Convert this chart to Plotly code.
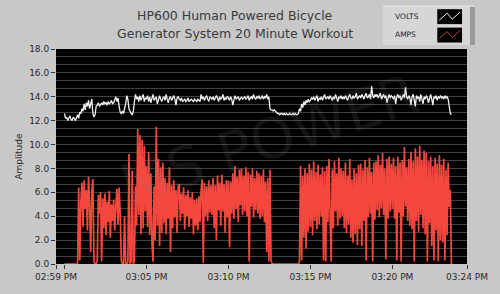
import pandas as pd
import plotly.graph_objects as go

# ---------------- data (one row = one minute, 4-second samples, from 03:00:00 PM) -------------
amps_rows = [
    [0, 0, 0, 0, 0, 0, 0, 0, 0, 0, 0, 0, 0, 6.4, 0.3],
    [5.2, 6.8, 3.1, 7.0, 4.6, 6.2, 2.8, 7.3, 5.0, 1.0, 6.0, 7.1, 0.2, 0, 0],
    [0.3, 5.8, 4.2, 6.0, 0.2, 5.5, 3.0, 5.9, 2.4, 5.2, 3.5, 6.1, 2.2, 5.0, 3.6],
    [5.4, 2.8, 4.9, 6.3, 3.3, 6.4, 4.1, 0.3, 0, 0, 4.0, 0, 0, 0.2, 9.2],
    [0, 0.2, 7.8, 0, 0.3, 6.5, 3.2, 11.3, 4.1, 10.8, 2.5, 10.4, 3.0, 9.9, 4.4],
    [8.2, 3.1, 9.4, 2.4, 7.6, 1.8, 0.2, 6.5, 2.0, 11.5, 3.2, 8.8, 1.5, 8.1, 2.6],
    [8.5, 3.4, 7.2, 2.5, 6.8, 3.8, 8.1, 1.0, 6.6, 3.0, 7.0, 3.9, 6.2, 2.6, 6.4],
    [6.7, 3.6, 5.9, 4.2, 6.4, 2.9, 5.8, 4.0, 6.2, 3.1, 5.6, 3.8, 6.0, 2.5, 5.4],
    [3.2, 5.5, 2.8, 5.7, 3.5, 6.2, 7.1, 0.1, 6.8, 4.0, 6.5, 3.6, 7.0, 4.3, 6.6],
    [4.1, 7.2, 3.0, 6.6, 2.0, 7.4, 4.5, 6.8, 3.2, 7.5, 4.4, 6.7, 2.6, 7.0, 3.9],
    [7.0, 1.4, 6.9, 4.2, 7.6, 3.8, 8.2, 4.6, 7.3, 3.5, 7.9, 4.9, 8.0, 4.1, 7.4],
    [4.4, 8.1, 4.0, 7.7, 0.2, 7.5, 4.8, 8.0, 3.9, 7.2, 4.5, 7.8, 4.2, 7.6, 3.8],
    [7.4, 4.0, 7.9, 3.5, 6.9, 1.0, 7.2, 0.2, 7.9, 0.3, 0, 0, 0, 0, 0],
    [0, 0, 0, 0, 0, 0, 0, 0, 0, 0, 0, 0, 0, 0, 0],
    [0, 0, 0, 0, 0, 0.2, 8.2, 0.3, 7.4, 2.2, 8.0, 1.3, 7.6, 2.7, 8.4],
    [3.1, 7.9, 2.4, 8.6, 3.6, 7.7, 2.9, 8.3, 3.3, 7.5, 4.0, 8.1, 0.3, 7.8, 0.2],
    [8.2, 3.5, 8.8, 4.1, 0.2, 7.9, 3.0, 8.6, 4.4, 7.6, 3.2, 8.9, 3.8, 8.0, 4.0],
    [7.8, 3.0, 8.5, 2.6, 7.4, 3.3, 8.8, 2.2, 7.1, 1.8, 8.0, 2.5, 7.6, 1.6, 8.3],
    [2.9, 8.4, 1.5, 7.9, 3.6, 8.7, 0.3, 8.1, 3.9, 8.9, 4.2, 7.7, 0.2, 8.5, 3.7],
    [8.6, 4.5, 9.1, 3.9, 8.3, 4.7, 9.3, 4.1, 8.0, 0.4, 8.8, 3.8, 9.0, 4.4, 8.4],
    [4.6, 8.9, 3.8, 8.2, 0.3, 9.0, 4.3, 8.5, 0.2, 8.7, 4.0, 9.8, 4.8, 8.1, 3.6],
    [8.8, 3.2, 9.4, 2.9, 8.6, 0.2, 9.7, 3.6, 9.0, 2.7, 9.9, 4.1, 8.7, 3.0, 9.5],
    [2.5, 9.3, 0.2, 8.6, 3.4, 9.0, 1.5, 8.2, 0.3, 8.9, 2.8, 8.4, 0.2, 9.1, 2.0],
    [8.3, 1.8, 8.8, 0.3, 7.9, 2.4, 8.5, 4.8, 6.2, 0, 0],
]

volts_rows = [
    [12.6, 12.2, 12.3, 12.0, 12.2, 12.4, 12.1, 12.0, 12.3, 12.2, 12.0, 12.3, 12.5, 12.2, 12.7],
    [12.6, 13.0, 12.8, 13.4, 12.9, 13.5, 13.2, 13.7, 13.0, 13.6, 13.8, 12.6, 12.3, 12.5, 13.2],
    [13.3, 13.5, 13.2, 13.4, 13.5, 13.3, 13.6, 13.4, 13.5, 13.3, 13.6, 13.4, 13.5, 13.7, 13.4],
    [13.5, 13.7, 14.0, 13.6, 13.9, 13.2, 12.7, 12.6, 12.8, 12.6, 13.0, 13.4, 14.1, 13.8, 13.0],
    [12.7, 12.6, 12.5, 12.8, 13.6, 14.2, 13.8, 14.0, 13.6, 14.1, 13.7, 13.9, 14.2, 13.6, 13.9],
    [13.8, 14.1, 13.6, 14.0, 13.5, 13.9, 14.2, 13.7, 13.9, 14.0, 13.4, 13.9, 14.1, 13.8, 13.6],
    [13.9, 14.0, 13.7, 14.2, 13.8, 13.5, 13.9, 14.0, 13.7, 13.9, 14.1, 13.8, 13.3, 13.9, 14.0],
    [13.8, 13.7, 13.9, 13.6, 13.7, 13.8, 13.6, 13.7, 13.9, 13.6, 13.7, 13.8, 13.7, 13.6, 13.8],
    [13.7, 13.6, 13.8, 13.7, 13.6, 14.2, 13.8, 14.0, 13.7, 13.9, 14.1, 13.8, 13.6, 14.0, 13.9],
    [13.8, 14.0, 13.7, 13.9, 14.1, 13.9, 13.6, 14.0, 13.8, 13.9, 14.2, 13.7, 13.9, 13.8, 14.0],
    [13.9, 13.7, 14.0, 13.8, 13.3, 13.9, 14.1, 13.8, 13.9, 14.0, 13.7, 13.9, 14.0, 13.8, 13.9],
    [14.0, 13.8, 13.9, 14.1, 13.7, 13.9, 14.0, 13.8, 14.2, 13.9, 13.8, 14.0, 13.9, 14.1, 13.8],
    [13.9, 14.1, 13.8, 14.0, 13.9, 14.2, 13.8, 14.0, 13.0, 12.9, 12.9, 12.8, 12.9, 12.8, 12.7],
    [12.6, 12.6, 12.5, 12.6, 12.6, 12.5, 12.6, 12.5, 12.6, 12.5, 12.5, 12.6, 12.5, 12.5, 12.6],
    [12.5, 12.6, 12.5, 12.5, 12.6, 13.0, 12.8, 13.4, 13.1, 13.6, 13.3, 13.7, 13.5, 13.8, 13.6],
    [13.7, 13.9, 13.8, 14.0, 13.7, 13.9, 14.1, 13.6, 13.9, 13.8, 14.0, 13.7, 13.9, 14.2, 13.8],
    [13.9, 14.0, 13.8, 14.1, 13.9, 13.7, 14.0, 13.8, 14.2, 13.9, 13.6, 14.0, 13.9, 14.1, 13.8],
    [14.0, 13.8, 14.1, 13.9, 13.7, 14.0, 14.2, 13.9, 13.8, 14.1, 13.9, 14.0, 14.3, 13.8, 14.0],
    [14.1, 13.9, 14.2, 14.0, 13.8, 14.1, 14.3, 13.9, 14.0, 14.2, 13.8, 14.9, 14.1, 13.9, 14.2],
    [14.0, 14.2, 13.9, 14.1, 14.3, 13.8, 14.0, 14.2, 13.9, 14.1, 13.5, 14.0, 14.2, 13.9, 14.1],
    [14.0, 13.8, 14.1, 13.4, 14.0, 14.2, 13.9, 14.1, 13.7, 14.0, 14.2, 13.9, 14.8, 14.0, 13.8],
    [14.1, 13.9, 13.3, 14.0, 14.2, 13.8, 13.2, 14.1, 13.9, 14.0, 13.6, 14.2, 13.9, 13.4, 14.0],
    [13.8, 14.1, 13.9, 13.5, 14.0, 14.2, 13.8, 13.3, 14.0, 13.9, 14.1, 13.7, 14.0, 13.9, 14.1],
    [13.9, 14.0, 13.8, 14.1, 13.9, 14.0, 13.8, 13.2, 12.6, 12.5],
]

start_time = "2000-01-01 15:00:00"
sample_step = "4s"
x_range = ["2000-01-01 14:59:29", "2000-01-01 15:24:33"]
tick_vals = ["2000-01-01 14:59:29", "2000-01-01 15:00:00", "2000-01-01 15:05:00",
             "2000-01-01 15:10:00", "2000-01-01 15:15:00", "2000-01-01 15:20:00",
             "2000-01-01 15:24:33"]
tick_text = ["02:59 PM", "", "03:05 PM", "03:10 PM", "03:15 PM", "03:20 PM", "03:24 PM"]
title_lines = ["HP600 Human Powered Bicycle", "Generator System 20 Minute Workout"]
series_names = ["VOLTS", "AMPS"]

amps = [v for row in amps_rows for v in row]
volts = [v for row in volts_rows for v in row]
t_amps = pd.date_range(start_time, periods=len(amps), freq=sample_step)
t_volts = pd.date_range(start_time, periods=len(volts), freq=sample_step)

# ---------------- styling -------------
W, H = 500, 294
L, R, T, B = 56, 29, 49, 29
BG = "#c8c8c8"
RED = "#f4473d"
WHITE = "#f2f2f2"
FONT = "DejaVu Sans"


def px(x):
    return (x - L) / (W - L - R)


def py(y):
    return (H - B - y) / (H - T - B)


fig = go.Figure()
fig.add_trace(go.Scatter(x=t_amps, y=amps, mode="lines", name=series_names[1],
                         line=dict(color=RED, width=1.7), showlegend=False))
fig.add_trace(go.Scatter(x=t_volts, y=volts, mode="lines", name=series_names[0],
                         line=dict(color=WHITE, width=1.3), showlegend=False))

fig.update_layout(
    width=W, height=H,
    margin=dict(l=L, r=R, t=T, b=B),
    paper_bgcolor=BG, plot_bgcolor="#000000",
    font=dict(family=FONT, size=9, color="#2a2a2a"),
    showlegend=False,
)
fig.update_xaxes(
    type="date", range=x_range, tickvals=tick_vals, ticktext=tick_text,
    showgrid=False, zeroline=False, ticks="outside", ticklen=4, tickcolor="#333",
    tickfont=dict(size=9, color="#2a2a2a"), showline=False,
)
fig.update_yaxes(
    range=[0, 18], dtick=2, tick0=0, tickformat=".1f", ticks="outside", ticklen=4,
    tickcolor="#333", tickfont=dict(size=9, color="#2a2a2a"),
    showgrid=True, gridcolor="#404040", gridwidth=1, zeroline=False,
    minor=dict(dtick=2 / 3, tick0=0, showgrid=True, gridcolor="#404040", gridwidth=1, ticks=""),
    title=dict(text="Amplitude", font=dict(size=9, color="#2a2a2a"), standoff=5),
)

annotations = []
# title
for i, line in enumerate(title_lines):
    annotations.append(dict(text=line, xref="paper", yref="paper", x=px(237), y=py(15 + 18 * i),
                            xanchor="center", yanchor="middle", showarrow=False,
                            font=dict(family=FONT, size=12.5, color="#3a3a3a")))
# watermark
annotations.append(dict(text="MS POWER", xref="paper", yref="paper", x=px(272), y=py(140),
                        xanchor="center", yanchor="middle", showarrow=False, textangle=-18,
                        font=dict(family=FONT, size=56, color="rgba(140,140,140,0.13)")))
# legend labels
for i, name in enumerate(series_names):
    annotations.append(dict(text=name, xref="paper", yref="paper", x=px(396), y=py(16 + 18 * i),
                            xanchor="left", yanchor="middle", showarrow=False,
                            font=dict(family=FONT, size=7.5, color="#222222")))

shapes = []
# legend frame (bevel)
shapes.append(dict(type="rect", xref="paper", yref="paper", x0=px(386), x1=px(479), y0=py(45), y1=py(6),
                   fillcolor="#d6d6d6", line=dict(width=0), layer="below"))
shapes.append(dict(type="rect", xref="paper", yref="paper", x0=px(474), x1=px(479), y0=py(45), y1=py(6),
                   fillcolor="#9a9a9a", line=dict(width=0), layer="below"))
shapes.append(dict(type="line", xref="paper", yref="paper", x0=px(386), x1=px(479), y0=py(6), y1=py(6),
                   line=dict(color="#eeeeee", width=1)))
# legend swatches
swatch_colors = [WHITE, "#c04040"]
for i, c in enumerate(swatch_colors):
    y0 = 9 + 18.5 * i
    shapes.append(dict(type="rect", xref="paper", yref="paper", x0=px(441), x1=px(466),
                       y0=py(y0 + 15), y1=py(y0), fillcolor="#000000", line=dict(width=0)))
    pts = [(443, y0 + 11), (451, y0 + 4), (456, y0 + 10), (464, y0 + 3)]
    path = "M " + " L ".join(f"{px(a):.5f},{py(b):.5f}" for a, b in pts)
    shapes.append(dict(type="path", xref="paper", yref="paper", path=path,
                       line=dict(color=c, width=1)))

fig.update_layout(annotations=annotations, shapes=shapes)
fig.write_html("out.html")
